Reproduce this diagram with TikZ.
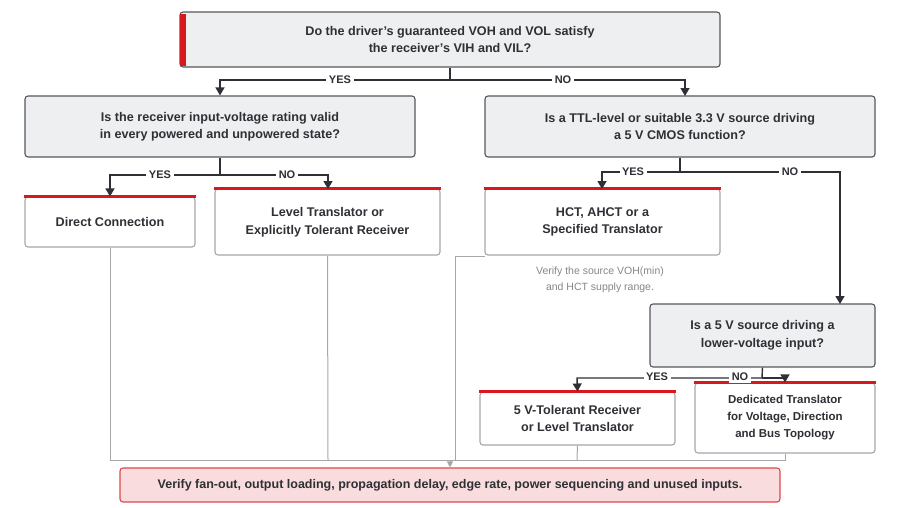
\documentclass[tikz,border=0pt]{standalone}
\usepackage{fontspec}
\setmainfont{Liberation Sans}
\usetikzlibrary{arrows.meta}
\definecolor{qfill}{HTML}{EEEFF1}
\definecolor{bord}{HTML}{55575C}
\definecolor{redc}{HTML}{D7191F}
\definecolor{pinkf}{HTML}{F9DCDE}
\definecolor{grayl}{HTML}{A5A7AB}
\definecolor{dark}{HTML}{2E3035}
\begin{document}
\begin{tikzpicture}[x=1pt,y=-1pt,
  q/.style={draw=bord,line width=1.1pt,fill=qfill,rounded corners=3pt,align=center,font=\fontsize{12.6}{17.5}\selectfont\bfseries,text=dark,inner sep=0pt},
  r/.style={draw=grayl,line width=1.1pt,fill=white,rounded corners=3pt,align=center,font=\fontsize{12.6}{17.5}\selectfont\bfseries,text=dark,inner sep=0pt},
  arr/.style={draw=dark,line width=1.4pt,-{Triangle[length=8pt,width=9pt]}},
  ln/.style={draw=dark,line width=1.4pt},
  gl/.style={draw=grayl,line width=1pt},
  lab/.style={fill=white,font=\fontsize{11}{12}\selectfont\bfseries,text=dark,inner sep=2.5pt}]
\useasboundingbox (0,0) rectangle (900,507);
\node[q,minimum width=540pt,minimum height=55pt] (top) at (450,39.5) {Do the driver's guaranteed VOH and VOL satisfy\\the receiver's VIH and VIL?};
\fill[redc] (180,13.5) rectangle (186,65.5);
\node[q,minimum width=390pt,minimum height=61pt] (ql) at (220,126.5) {Is the receiver input-voltage rating valid\\in every powered and unpowered state?};
\node[q,minimum width=390pt,minimum height=61pt] (qr) at (680,126.5) {Is a TTL-level or suitable 3.3 V source driving\\a 5 V CMOS function?};
\node[r,minimum width=170pt,minimum height=50pt] (dc) at (110,222) {Direct Connection};
\node[r,minimum width=225pt,minimum height=66pt] (lt) at (327.5,222) {Level Translator or\\Explicitly Tolerant Receiver};
\node[r,minimum width=235pt,minimum height=66pt] (hct) at (602.5,222) {HCT, AHCT or a\\Specified Translator};
\node[align=center,font=\fontsize{10.5}{16}\selectfont,text=grayl!80!black] (note) at (600,280) {Verify the source VOH(min)\\and HCT supply range.};
\node[q,minimum width=225pt,minimum height=63pt] (q3) at (762.5,335.5) {Is a 5 V source driving a\\lower-voltage input?};
\node[r,minimum width=195pt,minimum height=53pt] (tol) at (577.5,418.5) {5 V-Tolerant Receiver\\or Level Translator};
\node[r,minimum width=180pt,minimum height=70pt,font=\fontsize{11.5}{17}\selectfont\bfseries] (ded) at (785,418) {Dedicated Translator\\for Voltage, Direction\\and Bus Topology};
\node[draw=redc!80,line width=1.1pt,fill=pinkf,rounded corners=3pt,minimum width=660pt,minimum height=34pt,inner sep=0pt,font=\fontsize{12.5}{14}\selectfont\bfseries,text=dark] (fin) at (450,485) {Verify fan-out, output loading, propagation delay, edge rate, power sequencing and unused inputs.};
\foreach \n in {dc,lt,hct,tol,ded}{\draw[redc,line width=2.2pt] (\n.north west) -- (\n.north east);}
\coordinate (c1) at (110,460); \coordinate (c2) at (328,460); \coordinate (c3) at (577,460); \coordinate (c4) at (785,460);
\coordinate (h1) at (485,256); \coordinate (h2) at (455,256); \coordinate (h3) at (455,460);
\draw[gl] (dc.south) -- (c1) -- (c4) -- (ded.south);
\draw[gl] (lt.south) -- (c2);
\draw[gl] (tol.south) -- (c3);
\draw[gl] (h1) -- (h2) -- (h3);
\draw[gl,-{Triangle[length=6pt,width=6pt]}] (450,460) -- (fin.north);
\coordinate (t0) at (450,80);
\draw[ln] (top.south) -- (t0);
\draw[arr] (t0) -- (220,80) -- (ql.north);
\draw[arr] (t0) -- (685,80) -- (685,96);
\node[lab] at (340,80) {YES};
\node[lab] at (563,80) {NO};
\coordinate (l0) at (220,175);
\draw[ln] (ql.south) -- (l0);
\draw[arr] (l0) -- (110,175) -- (dc.north);
\draw[arr] (l0) -- (328,175) -- (328,189);
\node[lab] at (160,175) {YES};
\node[lab] at (287,175) {NO};
\coordinate (r0) at (680,172);
\draw[ln] (qr.south) -- (r0);
\draw[arr] (r0) -- (602,172) -- (602,189);
\draw[arr] (r0) -- (840,172) -- (840,304);
\node[lab] at (633,172) {YES};
\node[lab] at (790,172) {NO};
\coordinate (s0) at (762,378);
\draw[ln] (q3.south) -- (s0);
\draw[arr] (s0) -- (577,378) -- (tol.north);
\draw[arr] (s0) -- (785,378) -- (ded.north);
\node[lab] at (657,377) {YES};
\node[lab] at (740,377) {NO};
\end{tikzpicture}
\end{document}
